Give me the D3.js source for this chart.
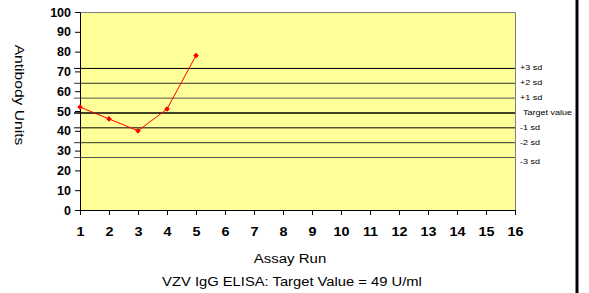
<!DOCTYPE html>
<html>
<head>
<meta charset="utf-8">
<script src="https://cdn.jsdelivr.net/npm/d3@7"></script>
<style>
body { margin: 0; background: #fff; }
text { font-family: "Liberation Sans", Arial, sans-serif; }
</style>
</head>
<body>
<script>
var width = 589, height = 293;

// data
var runs = [1, 2, 3, 4, 5];
var values = [52, 46, 40, 51, 78];
var xTicks = d3.range(1, 17);
var yTicks = [0, 10, 20, 30, 40, 50, 60, 70, 80, 90, 100];
var target = 49;
var sd = 7.5;
var sdLabels = ["+3 sd", "+2 sd", "+1 sd", "Target value", "-1 sd", "-2 sd", "-3 sd"];
var sdMultipliers = [3, 2, 1, 0, -1, -2, -3];
var lineColors = ["#000", "#333", "#555", "#000", "#000", "#333", "#555"];

var plotL = 80, plotR = 515, plotT = 12, plotB = 210;

var svg = d3.select("body").append("svg")
    .attr("width", width)
    .attr("height", height);

// the original text is drawn a bit wider than normal
function stretch(sel, k) {
    sel.each(function() {
        var len = this.getComputedTextLength();
        d3.select(this).attr("textLength", len * k).attr("lengthAdjust", "spacingAndGlyphs");
    });
}

var x = d3.scaleLinear().domain([1, 16]).range([plotL, plotR]);
var y = d3.scaleLinear().domain([0, 100]).range([plotB, plotT]);

// plot area
svg.append("rect")
    .attr("x", plotL).attr("y", plotT)
    .attr("width", plotR - plotL).attr("height", plotB - plotT)
    .attr("fill", "#ffff99");
svg.append("path")
    .attr("d", "M" + plotL + "," + (plotT + 0.5) + "H" + (plotR + 0.5) + "V" + plotB)
    .attr("fill", "none").attr("stroke", "#808080").attr("stroke-width", 1);

// sd lines
svg.selectAll(".sd").data(sdMultipliers).enter().append("line")
    .attr("x1", plotL - 6).attr("x2", plotR)
    .attr("y1", function(d) { return y(target + d * sd); })
    .attr("y2", function(d) { return y(target + d * sd); })
    .attr("stroke", function(d, i) { return lineColors[i]; })
    .attr("stroke-width", function(d) { return d === 0 ? 1.6 : 1; });

svg.selectAll(".sdlab").data(sdMultipliers).enter().append("text")
    .attr("x", function(d) { return d === 0 ? 523 : 520; })
    .attr("y", function(d) { return y(target + d * sd) + (d === -3 ? 6 : 2); })
    .attr("font-size", 7.5)
    .attr("fill", "#000")
    .text(function(d, i) { return sdLabels[i]; })
    .call(stretch, 1.2);

// axes
var yAxis = d3.axisLeft(y).tickValues(yTicks).tickSize(5).tickPadding(4);
var gy = svg.append("g").attr("transform", "translate(" + plotL + ",0)").call(yAxis);
gy.selectAll("text").attr("font-size", 12.5).attr("font-weight", "bold")
    .attr("font-family", "Liberation Sans, Arial, sans-serif");
gy.selectAll("line, path").attr("stroke", "#000");

var xAxis = d3.axisBottom(x).tickValues(xTicks).tickSize(5).tickSizeOuter(0).tickPadding(12);
var gx = svg.append("g").attr("transform", "translate(0," + plotB + ")").call(xAxis);
gx.selectAll("text").attr("font-size", 12.5).attr("font-weight", "bold")
    .attr("font-family", "Liberation Sans, Arial, sans-serif")
    .call(stretch, 1.15);
gx.selectAll("line, path").attr("stroke", "#000");

// series
var line = d3.line().x(function(d, i) { return x(runs[i]); }).y(function(d) { return y(d); });
svg.append("path").datum(values)
    .attr("d", line)
    .attr("fill", "none").attr("stroke", "#ff0000").attr("stroke-width", 1);
svg.selectAll(".pt").data(values).enter().append("rect")
    .attr("x", function(d, i) { return x(runs[i]) - 2; })
    .attr("y", function(d) { return y(d) - 2; })
    .attr("width", 4).attr("height", 4)
    .attr("transform", function(d, i) { return "rotate(45," + x(runs[i]) + "," + y(d) + ")"; })
    .attr("fill", "#ff0000");

// titles
svg.append("text")
    .attr("transform", "translate(15,95) rotate(90)")
    .attr("text-anchor", "middle").attr("font-size", 12.5)
    .text("Antibody Units")
    .call(stretch, 1.25);
svg.append("text")
    .attr("x", 290).attr("y", 263)
    .attr("text-anchor", "middle").attr("font-size", 12.5)
    .text("Assay Run")
    .call(stretch, 1.2);
svg.append("text")
    .attr("x", 292).attr("y", 286)
    .attr("text-anchor", "middle").attr("font-size", 12.5)
    .text("VZV IgG ELISA: Target Value = 49 U/ml")
    .call(stretch, 1.18);

// right border
svg.append("line")
    .attr("x1", 577).attr("x2", 577).attr("y1", 0).attr("y2", height)
    .attr("stroke", "#000").attr("stroke-width", 3);
</script>
</body>
</html>
